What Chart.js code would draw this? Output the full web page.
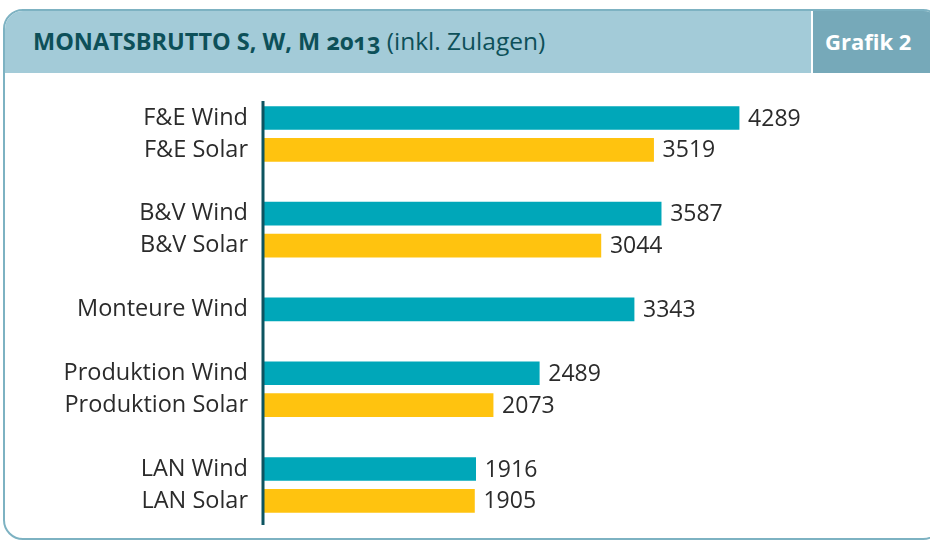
<!DOCTYPE html>
<html>
<head>
<meta charset="utf-8">
<script src="https://cdn.jsdelivr.net/npm/chart.js@4"></script>
<style>
    body { margin: 0; background: #fff; width: 930px; height: 540px; overflow: hidden; position: relative; font-family: "Open Sans", sans-serif; }
    #card { position: absolute; left: 3px; top: 9px; width: 940px; height: 531px; border: 2.5px solid #7db2c2; border-radius: 20px; box-sizing: border-box; overflow: hidden; }
    #head { position: absolute; left: 0; top: 0; width: 100%; height: 62px; background: #a3cbd8; }
    #title { position: absolute; left: 28px; top: 0; height: 62px; line-height: 60px; font-size: 23.5px; color: #0d5059; white-space: nowrap; }
    #title b { font-weight: 700; }
    #title .sub { font-size: 24.5px; }
    #title .yr { font-variant-numeric: oldstyle-nums; }
    #tag { position: absolute; left: 806px; top: 0; width: 140px; height: 62px; background: #76a9b9; border-left: 2px solid #fff; color: #fff; font-weight: 700; font-size: 22px; line-height: 60px; padding-left: 12px; box-sizing: border-box; }
    #wrap { position: absolute; left: 0; top: 72px; width: 930px; height: 466px; }
</style>
</head>
<body>
<div id="card">
    <div id="head">
        <div id="title"><b>MONATSBRUTTO S, W, M <span class="yr">2013</span></b> <span class="sub">(inkl. Zulagen)</span></div>
        <div id="tag">Grafik 2</div>
    </div>
</div>
<div id="wrap"><canvas id="chartBrutto"></canvas></div>
<script>
// empty labels are the gaps between the groups
const labels = ['F&E Wind', 'F&E Solar', '', 'B&V Wind', 'B&V Solar', '', 'Monteure Wind', '', 'Produktion Wind', 'Produktion Solar', '', 'LAN Wind', 'LAN Solar'];
const values = [4289, 3519, null, 3587, 3044, null, 3343, null, 2489, 2073, null, 1916, 1905];
const xMax = 5000;

const windColor = '#00a7b9';
const solarColor = '#ffc30f';
let barColors = labels.map(l => l.endsWith('Solar') ? solarColor : windColor);

let contextBrutto = document.querySelector('#chartBrutto').getContext('2d');

// draws the numbers after the bars and the vertical axis line
let valuePlugin = {
    id: 'values',
    afterDatasetsDraw(chart) {
        let ctx = chart.ctx;
        let meta = chart.getDatasetMeta(0);
        ctx.save();
        ctx.font = '23px "Open Sans"';
        ctx.fillStyle = '#2b2b2b';
        ctx.textAlign = 'left';
        ctx.textBaseline = 'middle';
        meta.data.forEach((bar, i) => {
            if (values[i] == null) return;
            ctx.fillText(values[i], bar.x + 9, bar.y + 1);
        });
        let area = chart.chartArea;
        ctx.strokeStyle = '#0d5460';
        ctx.lineWidth = 3;
        ctx.beginPath();
        ctx.moveTo(area.left, area.top - 1);
        ctx.lineTo(area.left, area.bottom + 8);
        ctx.stroke();
        ctx.restore();
    }
};

let config = {
    type: 'bar',
    data: {
        labels: labels,
        datasets: [{
            data: values,
            backgroundColor: barColors,
            borderWidth: 0,
            barThickness: 23
        }]
    },
    options: {
        indexAxis: 'y',
        responsive: true,
        maintainAspectRatio: false,
        animation: false,
        layout: {
            padding: { top: 30, bottom: 2, left: 0, right: 112 }
        },
        plugins: {
            legend: { display: false },
            tooltip: { enabled: false }
        },
        scales: {
            x: {
                display: false,
                min: 0,
                max: xMax
            },
            y: {
                afterFit(scale) { scale.width = 263; },
                grid: { display: false },
                border: { display: false },
                ticks: {
                    padding: 7,
                    color: '#2b2b2b',
                    font: { family: '"Open Sans"', size: 23.5 }
                }
            }
        }
    },
    plugins: [valuePlugin]
};

let chartBrutto = new Chart(contextBrutto, config);
</script>
</body>
</html>
